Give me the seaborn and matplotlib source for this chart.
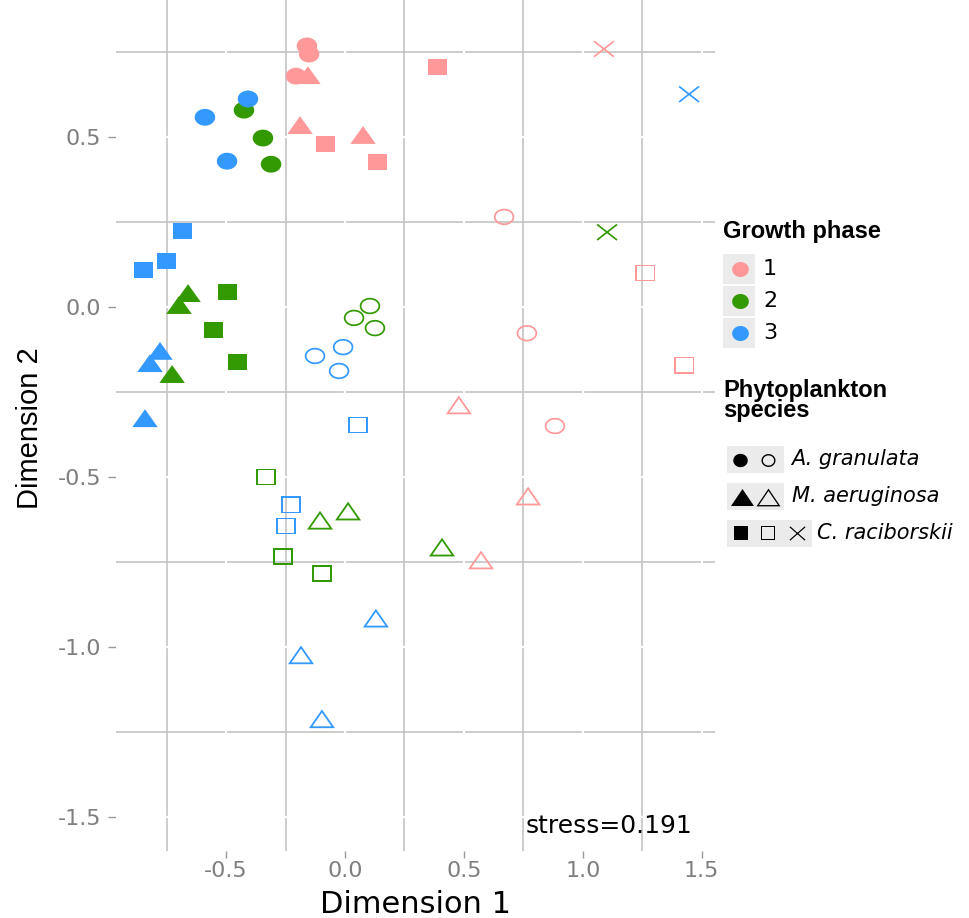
import numpy as np
import pandas as pd
import matplotlib
matplotlib.use("Agg")
import matplotlib.pyplot as plt
from matplotlib.path import Path
from matplotlib.patches import Rectangle
import seaborn as sns

# ---------------- data ----------------
phase_levels = ["1", "2", "3"]
phase_colors = ["#FF9999", "#339900", "#3399FF"]
species_levels = ["A. granulata", "M. aeruginosa", "C. raciborskii"]

dim1 = [
    # phase 1, filled
    -0.160, -0.151, -0.206, -0.156, -0.189, 0.076, 0.391, -0.080, 0.135,
    # phase 2, filled
    -0.425, -0.345, -0.311, -0.660, -0.698, -0.727, -0.496, -0.551, -0.454,
    # phase 3, filled
    -0.408, -0.589, -0.496, -0.778, -0.820, -0.841, -0.685, -0.749, -0.849,
    # phase 1, open / cross
    0.669, 0.765, 0.883, 0.479, 0.770, 0.572, 1.262, 1.426, 1.089,
    # phase 2, open / cross
    0.105, 0.038, 0.126, -0.105, 0.013, 0.408, -0.332, -0.261, -0.097, 1.102,
    # phase 3, open / cross
    -0.008, -0.126, -0.025, 0.130, -0.185, -0.097, 0.055, -0.227, -0.248, 1.447,
]
dim2 = [
    0.769, 0.745, 0.680, 0.683, 0.536, 0.507, 0.707, 0.480, 0.427,
    0.580, 0.498, 0.421, 0.042, 0.007, -0.196, 0.045, -0.067, -0.161,
    0.613, 0.559, 0.430, -0.128, -0.164, -0.326, 0.224, 0.136, 0.110,
    0.266, -0.076, -0.349, -0.287, -0.555, -0.743, 0.101, -0.170, 0.760,
    0.004, -0.031, -0.061, -0.626, -0.599, -0.705, -0.499, -0.732, -0.782, 0.221,
    -0.117, -0.143, -0.187, -0.914, -1.022, -1.210, -0.346, -0.581, -0.643, 0.627,
]
phase = (["1"] * 9 + ["2"] * 9 + ["3"] * 9 + ["1"] * 9 + ["2"] * 10 + ["3"] * 10)
species = (
    (["A. granulata"] * 3 + ["M. aeruginosa"] * 3 + ["C. raciborskii"] * 3) * 3
    + ["A. granulata"] * 3 + ["M. aeruginosa"] * 3 + ["C. raciborskii"] * 3
    + (["A. granulata"] * 3 + ["M. aeruginosa"] * 3 + ["C. raciborskii"] * 4) * 2
)
form = (
    ["filled"] * 27
    + ["open"] * 8 + ["cross"]
    + ["open"] * 9 + ["cross"]
    + ["open"] * 9 + ["cross"]
)
x_ticks = [-0.5, 0.0, 0.5, 1.0, 1.5]
x_ticklabels = ["-0.5", "0.0", "0.5", "1.0", "1.5"]
y_ticks = [-1.5, -1.0, -0.5, 0.0, 0.5]
y_ticklabels = ["-1.5", "-1.0", "-0.5", "0.0", "0.5"]
stress_label = "stress=0.191"

df = pd.DataFrame({"dim1": dim1, "dim2": dim2, "phase": phase,
                   "species": species, "form": form})

# ---------------- marker shapes ----------------
def make_path(contours):
    verts, codes = [], []
    for c in contours:
        c = np.asarray(c, float)
        verts.extend(list(c)); verts.append(c[0])
        codes += [Path.MOVETO] + [Path.LINETO] * (len(c) - 1) + [Path.CLOSEPOLY]
    return Path(np.array(verts), codes)


def offset_polygon(pts, t):
    pts = np.asarray(pts, float)
    n = len(pts)
    lines = []
    for i in range(n):
        p, q = pts[i], pts[(i + 1) % n]
        d = q - p
        nrm = np.array([-d[1], d[0]]) / np.hypot(*d)
        lines.append((nrm, p @ nrm + t))
    out = []
    for i in range(n):
        n1, c1 = lines[i - 1]
        n2, c2 = lines[i]
        out.append(np.linalg.solve(np.array([n1, n2]), np.array([c1, c2])))
    return np.array(out)


def shape(kind, ry, t=None):
    if kind == "circle":
        th = np.linspace(0, 2 * np.pi, 90, endpoint=False)
        outer = np.c_[np.cos(th), ry * np.sin(th)]
        inner = None if t is None else np.c_[(1 - t) * np.cos(th), (ry - t) * np.sin(th)][::-1]
    else:
        if kind == "square":
            outer = np.array([(-1, -ry), (1, -ry), (1, ry), (-1, ry)], float)
        else:
            outer = np.array([(-1, -ry), (1, -ry), (0, ry)], float)
        inner = None if t is None else offset_polygon(outer, t)[::-1]
    return make_path([outer] + ([] if inner is None else [inner]))


def cross(ry, w):
    contours = []
    for p0, p1 in [((-1, -ry), (1, ry)), ((-1, ry), (1, -ry))]:
        p0, p1 = np.array(p0, float), np.array(p1, float)
        d = p1 - p0
        nrm = np.array([-d[1], d[0]]) / np.hypot(*d) * w / 2
        rect = np.array([p0 - nrm, p1 - nrm, p1 + nrm, p0 + nrm])
        area = 0.5 * np.sum(rect[:, 0] * np.roll(rect[:, 1], -1) - np.roll(rect[:, 0], -1) * rect[:, 1])
        if area < 0:
            rect = rect[::-1]
        contours.append(rect)
    return make_path(contours)


def s_of(px):
    return (px * 72 / 100) ** 2

plot_markers = {
    ("filled", "A. granulata"): (shape("circle", 0.82), s_of(20.5)),
    ("filled", "M. aeruginosa"): (shape("triangle", 0.70), s_of(25.5)),
    ("filled", "C. raciborskii"): (shape("square", 0.86), s_of(19)),
    ("open", "A. granulata"): (shape("circle", 0.80, 0.17), s_of(20.5)),
    ("open", "M. aeruginosa"): (shape("triangle", 0.72, 0.14), s_of(26)),
    ("open", "C. raciborskii"): (shape("square", 0.83, 0.17), s_of(20.3)),
    ("cross", "C. raciborskii"): (cross(0.78, 0.17), s_of(21)),
}

# ---------------- figure ----------------
plt.rcParams["font.family"] = ["DejaVu Sans"]
plt.rcParams["axes.unicode_minus"] = False

W, H = 969, 918
fig = plt.figure(figsize=(W / 100, H / 100), dpi=100)
fig.patch.set_facecolor("white")
ax = fig.add_axes([116 / W, 1 - 850.7 / H, 599 / W, 850.7 / H])
ax.set_facecolor("white")

palette = dict(zip(phase_levels, phase_colors))
for (fm, sp), (mk, sz) in plot_markers.items():
    sub = df[(df["form"] == fm) & (df["species"] == sp)]
    if len(sub) == 0:
        continue
    sns.scatterplot(data=sub, x="dim1", y="dim2", hue="phase", hue_order=phase_levels,
                    palette=palette, marker=mk, s=sz, linewidth=0, edgecolor="none",
                    legend=False, ax=ax, zorder=3)

ax.set_xlim(-0.963, 1.556)
ax.set_ylim(-1.598, 0.904)
ax.set_xticks(x_ticks)
ax.set_xticklabels(x_ticklabels)
ax.set_yticks(y_ticks)
ax.set_yticklabels(y_ticklabels)
minor_x = [(a + b) / 2 for a, b in zip(x_ticks[:-1], x_ticks[1:])] + [x_ticks[0] - 0.25]
minor_y = [(a + b) / 2 for a, b in zip(y_ticks[:-1], y_ticks[1:])] + [y_ticks[-1] + 0.25]
ax.set_xticks(minor_x, minor=True)
ax.set_yticks(minor_y, minor=True)
ax.set_axisbelow(True)
ax.grid(which="minor", color="#C4C4C4", linewidth=1.2)
ax.grid(which="major", visible=False)
for v in x_ticks:
    ax.axvline(v, color="white", linewidth=1.6, zorder=0.8)
for v in y_ticks:
    ax.axhline(v, color="white", linewidth=1.6, zorder=0.8)
for s in ax.spines.values():
    s.set_visible(False)
ax.tick_params(which="minor", length=0)
ax.tick_params(axis="x", which="major", length=5, width=1.0, color="#9A9A9A",
               labelcolor="#7F7F7F", labelsize=16, pad=2.5)
ax.tick_params(axis="y", which="major", length=5.5, width=1.0, color="#9A9A9A",
               labelcolor="#7F7F7F", labelsize=16, pad=5)

ax.set_xlabel("Dimension 1", fontsize=22, color="black")
ax.xaxis.set_label_coords(415.5 / W, 1 - 913 / H, transform=fig.transFigure)
ax.xaxis.label.set_va("baseline")
ax.set_ylabel("Dimension 2", fontsize=21, color="black", family=["Liberation Sans", "DejaVu Sans"])
ax.yaxis.set_label_coords(30 / W, 1 - 428.5 / H, transform=fig.transFigure)
ax.yaxis.label.set_va("center")
ax.yaxis.label.set_ha("center")

ax.text(1.112, -1.546, stress_label, fontsize=18, ha="center", va="baseline", color="black")

# ---------------- legends (pixel-space overlay) ----------------
lg = fig.add_axes([0, 0, 1, 1])
lg.set_xlim(0, W)
lg.set_ylim(H, 0)
lg.set_axis_off()
key_grey = "#EBEBEB"
bold = dict(family=["Liberation Sans", "DejaVu Sans"], fontweight="bold", fontsize=17)

lg.text(723, 238.3, "Growth phase", ha="left", va="baseline", **bold)
for i, (lab, col) in enumerate(zip(phase_levels, phase_colors)):
    yc = 269 + 32.2 * i
    lg.add_patch(Rectangle((723.5, yc - 15.5), 32, 30.5, facecolor=key_grey, edgecolor="none"))
    lg.scatter([740], [yc], marker=shape("circle", 0.9), s=s_of(16.7), c=col, linewidths=0, zorder=3)
    lg.text(763, yc, lab, fontsize=16, ha="left", va="center")

lg.text(723, 416.5, "Phytoplankton\nspecies", ha="left", va="baseline",
        linespacing=0.8, multialignment="left", **bold)

leg_rows = [
    (459.5, 57, [(740, shape("circle", 0.92), s_of(14.5)), (768.3, shape("circle", 0.92, 0.2), s_of(14))], 791),
    (496.7, 57, [(741.7, shape("triangle", 0.74), s_of(23)), (768.3, shape("triangle", 0.74, 0.11), s_of(24))], 792.3),
    (533.3, 85.5, [(741, shape("square", 1.0), s_of(14)), (768.3, shape("square", 1.0, 0.19), s_of(14)),
                   (796.7, cross(0.88, 0.16), s_of(16))], 816.7),
]
for (yc, wbox, marks, tx), lab in zip(leg_rows, species_levels):
    lg.add_patch(Rectangle((727, yc - 13.3), wbox, 26.6, facecolor=key_grey, edgecolor="none"))
    for xm, mk, sz in marks:
        lg.scatter([xm], [yc], marker=mk, s=sz, c="black", linewidths=0, zorder=3)
    lg.text(tx, yc + 5.8, lab, fontsize=15, style="italic", ha="left", va="baseline")

fig.savefig("out.png", dpi=100)
